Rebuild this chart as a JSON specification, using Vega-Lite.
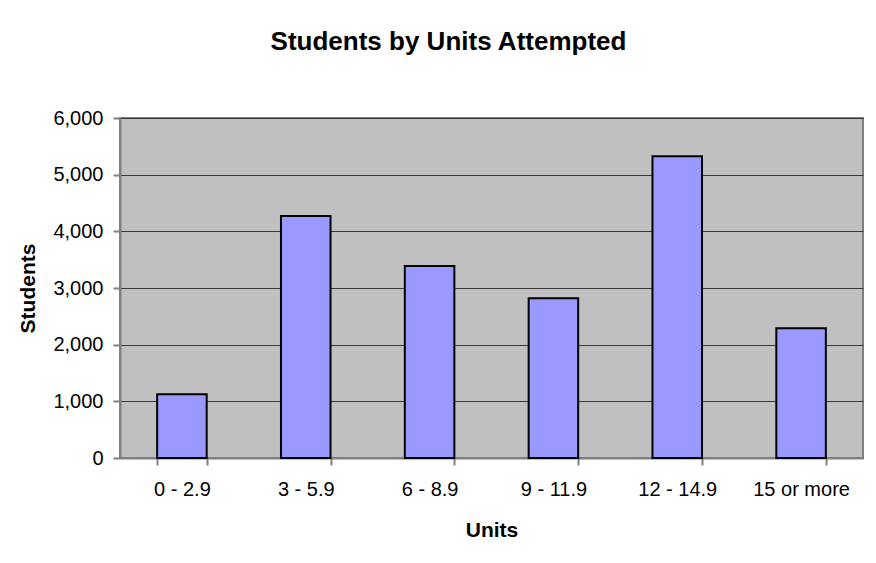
{
  "$schema": "https://vega.github.io/schema/vega-lite/v6.json",
  "autosize": {"type": "none"},
  "padding": {"left": 120, "top": 118, "right": 13, "bottom": 105},
  "width": 743,
  "height": 340,
  "background": "white",
  "title": {
    "text": "Students by Units Attempted",
    "font": "Liberation Sans",
    "fontSize": 26,
    "fontWeight": "bold",
    "color": "black",
    "anchor": "middle",
    "frame": "group",
    "dx": -43,
    "offset": 53
  },
  "data": {
    "values": [
      {"Units": "0 - 2.9", "Students": 1125},
      {"Units": "3 - 5.9", "Students": 4270},
      {"Units": "6 - 8.9", "Students": 3390},
      {"Units": "9 - 11.9", "Students": 2820},
      {"Units": "12 - 14.9", "Students": 5325},
      {"Units": "15 or more", "Students": 2290}
    ]
  },
  "mark": {"type": "bar", "fill": "#9999FF", "stroke": "black", "strokeWidth": 2},
  "encoding": {
    "x": {
      "field": "Units",
      "type": "nominal",
      "sort": null,
      "scale": {"paddingInner": 0.6, "paddingOuter": 0.3},
      "axis": {
        "title": "Units",
        "labelAngle": 0,
        "tickBand": "extent",
        "tickSize": 7,
        "tickColor": "#808080",
        "tickWidth": 2,
        "domainColor": "#808080",
        "domainWidth": 2,
        "labelPadding": 14,
        "titlePadding": 20
      }
    },
    "y": {
      "field": "Students",
      "type": "quantitative",
      "scale": {"domain": [0, 6000], "nice": false},
      "axis": {
        "title": "Students",
        "values": [0, 1000, 2000, 3000, 4000, 5000, 6000],
        "format": ",d",
        "grid": true,
        "gridColor": "#3a3a3a",
        "gridWidth": 1,
        "tickSize": 7,
        "tickColor": "#808080",
        "tickWidth": 2,
        "domainColor": "#808080",
        "domainWidth": 2,
        "labelPadding": 10,
        "titlePadding": 14
      }
    }
  },
  "config": {
    "view": {"fill": "#C0C0C0", "stroke": "#808080", "strokeWidth": 2},
    "axis": {
      "labelFont": "Liberation Sans",
      "labelFontSize": 20,
      "labelColor": "black",
      "titleFont": "Liberation Sans",
      "titleFontSize": 21,
      "titleFontWeight": "bold",
      "titleColor": "black"
    }
  }
}
